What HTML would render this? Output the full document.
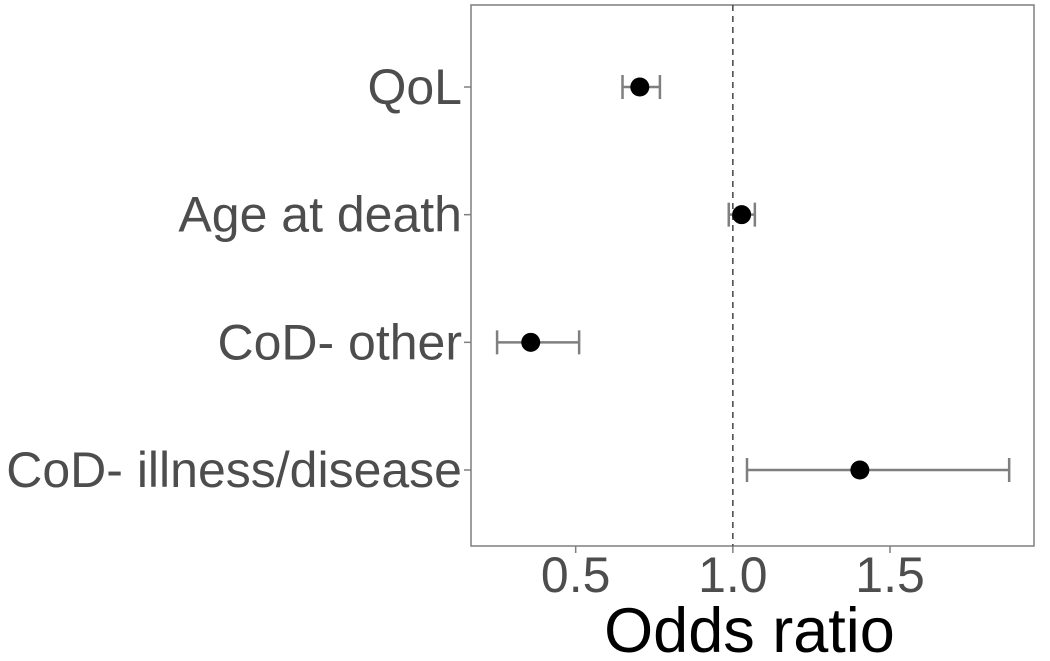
<!DOCTYPE html>
<html><head><meta charset="utf-8"><style>
html,body{margin:0;padding:0;background:#fff;}
svg{display:block;font-family:"Liberation Sans",Arial,sans-serif;}
</style></head><body>
<svg id="chart" width="1050" height="661" viewBox="0 0 1050 661"></svg>
<script>
const categories = ["QoL","Age at death","CoD- other","CoD- illness/disease"];
const estimates = [0.704, 1.028, 0.357, 1.404];
const lower = [0.649, 0.987, 0.25, 1.045];
const upper = [0.768, 1.07, 0.511, 1.879];
const xTicks = [0.5, 1.0, 1.5];
const xTickLabels = ["0.5","1.0","1.5"];

const L=471, R=1034, T=5, B=546, xmin=0.167, xmax=1.958;
const rowY=[87,215,342,470];
const x=v=>L+(v-xmin)/(xmax-xmin)*(R-L);
const y=i=>rowY[0]+i*(rowY[3]-rowY[0])/3;
const svg=document.getElementById('chart');
const NS='http://www.w3.org/2000/svg';
function mk(t,a,p){const e=document.createElementNS(NS,t);for(const k in a)e.setAttribute(k,a[k]);(p||svg).appendChild(e);return e;}

const panel=mk('rect',{x:L,y:T,width:R-L,height:B-T,fill:'#fff',stroke:'#7f7f7f','stroke-width':1.5});



const ref=mk('line',{x1:x(1),x2:x(1),y1:T,y2:B,stroke:'#444','stroke-width':1.5,'stroke-dasharray':'6,5'});



categories.forEach((c,i)=>{
  const yy=y(i);
  const tk=mk('line',{x1:L-7,x2:L,y1:yy,y2:yy,stroke:'#7f7f7f','stroke-width':1.5});
  
  
  const t=mk('text',{x:L-9,y:yy+17,'text-anchor':'end','font-size':50,fill:'#4d4d4d'});
  t.textContent=c;
  
  
  const g=mk('g',{stroke:'#7f7f7f','stroke-width':2.5});
  
  
  mk('line',{x1:x(lower[i]),x2:x(upper[i]),y1:yy,y2:yy},g);
  mk('line',{x1:x(lower[i]),x2:x(lower[i]),y1:yy-12,y2:yy+12},g);
  mk('line',{x1:x(upper[i]),x2:x(upper[i]),y1:yy-12,y2:yy+12},g);
  const p=mk('circle',{cx:x(estimates[i]),cy:yy,r:9.5,fill:'#000'});
  
  
});

xTicks.forEach((v,i)=>{
  const tk=mk('line',{x1:x(v),x2:x(v),y1:B,y2:B+7,stroke:'#7f7f7f','stroke-width':1.5});
  
  
  const t=mk('text',{x:x(v),y:592,'text-anchor':'middle','font-size':50,fill:'#4d4d4d'});
  t.textContent=xTickLabels[i];
  
  
});
const xt=mk('text',{x:(L+R)/2-3,y:652,'text-anchor':'middle','font-size':63,fill:'#000'});
xt.textContent='Odds ratio';


</script>
</body></html>
